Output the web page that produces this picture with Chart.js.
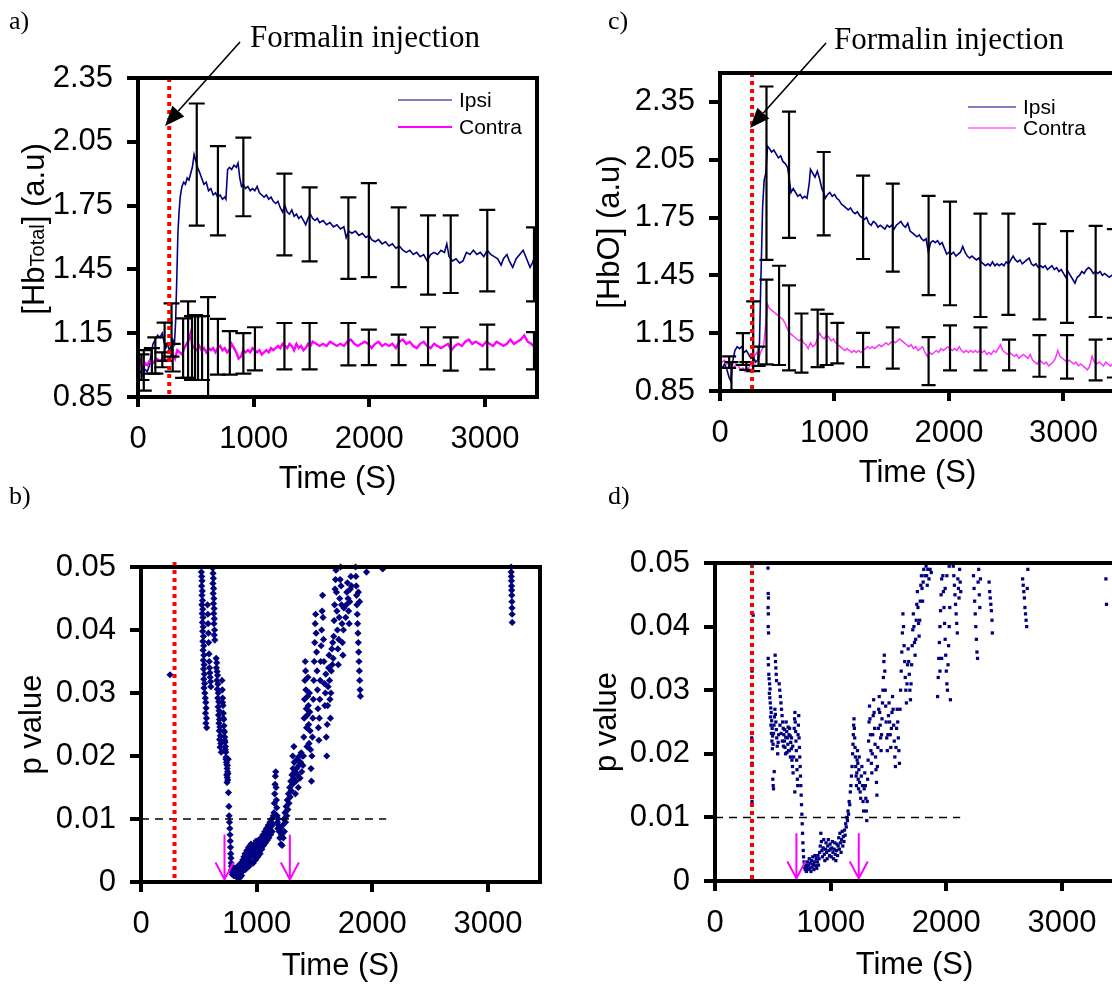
<!DOCTYPE html>
<html><head><meta charset="utf-8">
<script src="https://cdn.jsdelivr.net/npm/chart.js@4.4.1/dist/chart.umd.min.js"></script>
<style>
html,body{margin:0;padding:0;background:#fff;}
body{width:1112px;height:986px;overflow:hidden;position:relative;}
canvas{position:absolute;}
.lab{position:absolute;font-family:'Liberation Serif','Times New Roman',serif;color:#000;line-height:1;white-space:nowrap;}
</style></head><body>
<canvas id="ca" width="556" height="500" style="left:0;top:0"></canvas>
<canvas id="cc" width="580" height="500" style="left:556px;top:0"></canvas>
<canvas id="cb" width="556" height="486" style="left:0;top:500px"></canvas>
<canvas id="cd" width="580" height="486" style="left:556px;top:500px"></canvas>
<div class="lab" style="left:9px;top:8px;font-size:26px">a)</div>
<div class="lab" style="left:608px;top:8px;font-size:26px">c)</div>
<div class="lab" style="left:9px;top:483px;font-size:26px">b)</div>
<div class="lab" style="left:608px;top:483px;font-size:26px">d)</div>
<div class="lab" style="left:250px;top:21px;font-size:31px">Formalin injection</div>
<div class="lab" style="left:834px;top:23px;font-size:31px">Formalin injection</div>
<script>
// ---------- data ----------
const xTickVals = [0, 1000, 2000, 3000];
const hbTickVals = [0.85, 1.15, 1.45, 1.75, 2.05, 2.35];
const pTickVals = [0, 0.01, 0.02, 0.03, 0.04, 0.05];
const seriesNames = ['Ipsi', 'Contra'];
const injectionTime = {a: 270, b: 290, c: 280, d: 320};
const pThreshold = 0.01;
const thresholdEnd = 2120;
const sigArrowsB = [722, 1287];
const sigArrowsD = [704, 1243];

// panel a: [HbTotal]
const aIpsi = [[0,0.96],[20,0.97],[40,0.95],[60,0.98],[80,0.97],[100,1.00],[115,1.06],[130,1.10],[150,1.12],[170,1.14],[190,1.13],[210,1.15],[225,1.11],[240,1.08],[255,1.10],[270,1.07],[285,1.09],[300,1.12],[315,1.10],[325,1.20],[335,1.40],[345,1.62],[355,1.72],[365,1.79],[380,1.84],[395,1.86],[410,1.85],[425,1.88],[440,1.87],[455,1.90],[470,1.93],[485,1.99],[500,1.96],[515,1.93],[530,1.91],[550,1.88],[570,1.85],[590,1.86],[610,1.82],[630,1.83],[650,1.80],[670,1.81],[690,1.79],[710,1.80],[730,1.78],[750,1.79],[760,1.78],[775,1.92],[790,1.93],[810,1.92],[830,1.94],[850,1.93],[865,1.95],[880,1.88],[895,1.84],[910,1.85],[930,1.83],[950,1.84],[970,1.82],[990,1.83],[1010,1.82],[1030,1.84],[1050,1.81],[1070,1.80],[1090,1.79],[1110,1.80],[1130,1.78],[1150,1.79],[1170,1.77],[1190,1.76],[1210,1.77],[1230,1.74],[1250,1.72],[1270,1.75],[1290,1.72],[1310,1.71],[1330,1.73],[1350,1.70],[1370,1.71],[1390,1.69],[1410,1.70],[1430,1.68],[1450,1.66],[1470,1.69],[1490,1.71],[1510,1.69],[1530,1.68],[1550,1.69],[1570,1.67],[1600,1.68],[1630,1.66],[1660,1.67],[1690,1.65],[1720,1.66],[1750,1.64],[1780,1.65],[1800,1.60],[1820,1.63],[1850,1.62],[1880,1.63],[1910,1.61],[1940,1.62],[1970,1.60],[2000,1.61],[2020,1.59],[2050,1.58],[2080,1.59],[2110,1.57],[2140,1.58],[2170,1.56],[2200,1.57],[2230,1.55],[2260,1.56],[2290,1.54],[2320,1.53],[2350,1.54],[2380,1.52],[2410,1.53],[2440,1.51],[2470,1.52],[2500,1.49],[2530,1.52],[2560,1.53],[2590,1.52],[2620,1.54],[2650,1.53],[2670,1.57],[2690,1.51],[2720,1.49],[2750,1.50],[2780,1.48],[2810,1.49],[2840,1.53],[2870,1.52],[2900,1.54],[2930,1.52],[2960,1.53],[2990,1.51],[3020,1.54],[3050,1.52],[3080,1.51],[3110,1.50],[3140,1.47],[3160,1.50],[3190,1.52],[3210,1.49],[3240,1.46],[3270,1.50],[3300,1.52],[3330,1.54],[3360,1.50],[3390,1.46],[3410,1.48],[3430,1.51],[3445,1.42],[3450,1.32]];
const aContra = [[0,0.99],[20,1.02],[40,0.98],[60,1.01],[80,1.00],[100,1.02],[130,1.01],[160,1.03],[190,1.02],[220,1.03],[250,1.02],[280,1.04],[300,1.05],[320,1.03],[340,1.07],[360,1.06],[380,1.05],[400,1.08],[420,1.10],[440,1.12],[455,1.15],[470,1.09],[490,1.08],[510,1.07],[530,1.09],[550,1.07],[570,1.08],[590,1.06],[610,1.08],[630,1.07],[650,1.08],[670,1.06],[690,1.08],[710,1.09],[730,1.07],[750,1.08],[770,1.06],[790,1.07],[810,1.10],[830,1.08],[850,1.06],[870,1.03],[890,1.04],[910,1.07],[930,1.06],[950,1.07],[970,1.06],[990,1.08],[1010,1.07],[1030,1.06],[1050,1.07],[1070,1.05],[1090,1.06],[1110,1.07],[1130,1.06],[1150,1.08],[1170,1.07],[1190,1.08],[1210,1.09],[1230,1.08],[1250,1.10],[1270,1.09],[1290,1.08],[1310,1.10],[1330,1.09],[1350,1.07],[1370,1.10],[1390,1.08],[1410,1.09],[1430,1.07],[1450,1.08],[1470,1.10],[1490,1.09],[1510,1.11],[1540,1.10],[1570,1.09],[1600,1.10],[1630,1.09],[1660,1.11],[1690,1.10],[1720,1.09],[1750,1.10],[1780,1.09],[1810,1.11],[1840,1.12],[1870,1.10],[1900,1.09],[1930,1.10],[1960,1.11],[1990,1.10],[2020,1.08],[2050,1.10],[2080,1.11],[2110,1.09],[2140,1.10],[2170,1.09],[2200,1.10],[2230,1.08],[2260,1.11],[2290,1.12],[2320,1.10],[2350,1.11],[2380,1.09],[2410,1.08],[2440,1.10],[2470,1.11],[2500,1.09],[2530,1.08],[2560,1.10],[2590,1.09],[2620,1.08],[2650,1.09],[2680,1.10],[2710,1.07],[2740,1.09],[2770,1.10],[2800,1.09],[2830,1.11],[2860,1.12],[2890,1.10],[2920,1.11],[2950,1.10],[2980,1.09],[3010,1.11],[3040,1.10],[3070,1.09],[3100,1.11],[3130,1.10],[3160,1.09],[3190,1.10],[3220,1.12],[3250,1.10],[3280,1.11],[3310,1.12],[3340,1.14],[3370,1.11],[3400,1.10],[3420,1.09],[3440,1.12],[3450,1.14]];
const aIpsiErr = [[50,0.88,1.07],[150,0.96,1.13],[230,1.02,1.20],[290,1.04,1.29],[508,1.656,2.23],[691,1.61,2.03],[911,1.70,2.07],[1266,1.516,1.90],[1484,1.488,1.836],[1819,1.405,1.789],[1996,1.414,1.856],[2254,1.367,1.742],[2508,1.331,1.704],[2704,1.339,1.704],[3020,1.347,1.73],[3424,1.30,1.648]];
const aContraErr = [[30,0.93,1.05],[120,0.96,1.08],[210,0.99,1.06],[300,0.97,1.10],[390,0.94,1.22],[433,0.94,1.30],[467,0.93,1.23],[493,0.93,1.235],[519,0.93,1.23],[554,0.93,1.23],[606,0.80,1.32],[691,0.955,1.217],[794,0.955,1.16],[911,0.96,1.15],[1011,0.975,1.178],[1266,0.98,1.198],[1484,0.98,1.198],[1819,0.999,1.198],[1996,1.0,1.167],[2254,1.0,1.143],[2508,1.0,1.178],[2704,0.974,1.13],[3020,0.98,1.19],[3424,0.98,1.155]];

// panel c: [HbO]
const cIpsi = [[0,0.98],[20,0.97],[40,0.99],[60,0.96],[80,0.92],[95,0.90],[110,1.00],[130,1.06],[150,1.08],[170,1.07],[190,1.08],[210,1.05],[230,1.06],[250,1.04],[270,1.02],[290,1.03],[310,1.00],[330,1.01],[345,1.10],[355,1.38],[365,1.62],[372,1.80],[385,1.94],[400,1.98],[415,2.12],[430,2.11],[450,2.09],[470,2.10],[490,2.08],[510,2.06],[530,2.07],[550,2.04],[570,2.03],[590,2.01],[605,1.95],[620,1.88],[640,1.90],[660,1.88],[680,1.86],[700,1.87],[720,1.85],[740,1.86],[760,1.85],[780,1.93],[790,2.00],[810,1.98],[830,1.96],[850,1.99],[870,1.95],[890,1.90],[905,1.88],[920,1.85],[940,1.87],[960,1.88],[980,1.86],[1000,1.87],[1020,1.85],[1040,1.84],[1060,1.82],[1080,1.81],[1100,1.80],[1120,1.79],[1140,1.80],[1160,1.78],[1180,1.77],[1200,1.78],[1220,1.76],[1240,1.75],[1260,1.74],[1280,1.75],[1300,1.72],[1320,1.71],[1340,1.73],[1360,1.72],[1380,1.70],[1400,1.71],[1420,1.70],[1440,1.69],[1460,1.71],[1480,1.70],[1500,1.71],[1520,1.69],[1540,1.71],[1560,1.72],[1580,1.73],[1600,1.71],[1620,1.70],[1640,1.72],[1660,1.68],[1680,1.67],[1700,1.66],[1720,1.65],[1740,1.66],[1760,1.64],[1780,1.63],[1800,1.64],[1820,1.57],[1840,1.62],[1860,1.63],[1880,1.62],[1900,1.63],[1920,1.61],[1940,1.62],[1960,1.59],[1980,1.56],[2000,1.57],[2020,1.56],[2040,1.57],[2060,1.55],[2080,1.56],[2100,1.57],[2120,1.60],[2140,1.57],[2160,1.55],[2180,1.54],[2200,1.55],[2220,1.54],[2240,1.53],[2260,1.54],[2280,1.52],[2300,1.51],[2320,1.50],[2340,1.51],[2360,1.50],[2380,1.52],[2400,1.50],[2420,1.51],[2440,1.50],[2460,1.51],[2480,1.50],[2500,1.52],[2520,1.51],[2540,1.53],[2560,1.55],[2580,1.53],[2600,1.52],[2620,1.53],[2640,1.51],[2660,1.52],[2680,1.53],[2700,1.54],[2720,1.51],[2740,1.50],[2760,1.51],[2780,1.49],[2800,1.50],[2820,1.49],[2840,1.50],[2860,1.48],[2880,1.49],[2900,1.50],[2920,1.48],[2940,1.49],[2960,1.47],[2980,1.48],[3000,1.46],[3020,1.44],[3040,1.47],[3060,1.45],[3080,1.43],[3100,1.41],[3120,1.44],[3140,1.45],[3160,1.47],[3180,1.46],[3200,1.48],[3220,1.49],[3240,1.48],[3260,1.46],[3280,1.47],[3300,1.46],[3320,1.47],[3340,1.45],[3360,1.46],[3380,1.45],[3400,1.44],[3420,1.45],[3450,1.44]];
const cContra = [[0,1.02],[20,1.00],[40,1.01],[60,0.99],[80,1.00],[100,0.98],[120,0.97],[140,0.99],[160,0.98],[180,0.96],[200,0.97],[220,0.95],[240,0.96],[260,0.98],[280,1.00],[300,1.03],[320,1.05],[340,1.02],[360,1.06],[380,1.08],[400,1.20],[415,1.30],[430,1.28],[450,1.27],[470,1.26],[490,1.25],[510,1.24],[530,1.23],[550,1.22],[570,1.20],[590,1.17],[610,1.15],[630,1.14],[650,1.13],[670,1.12],[690,1.11],[710,1.12],[730,1.10],[750,1.09],[770,1.07],[790,1.10],[810,1.08],[830,1.09],[850,1.12],[870,1.15],[890,1.13],[910,1.12],[930,1.14],[950,1.13],[970,1.11],[990,1.12],[1010,1.10],[1030,1.09],[1050,1.08],[1070,1.07],[1090,1.06],[1110,1.07],[1130,1.06],[1150,1.05],[1170,1.06],[1190,1.05],[1210,1.06],[1230,1.05],[1250,1.06],[1270,1.07],[1290,1.08],[1310,1.07],[1330,1.08],[1350,1.07],[1370,1.08],[1390,1.09],[1410,1.08],[1430,1.09],[1450,1.10],[1470,1.09],[1490,1.10],[1510,1.11],[1530,1.10],[1550,1.11],[1570,1.12],[1590,1.11],[1610,1.10],[1630,1.09],[1650,1.08],[1670,1.09],[1690,1.07],[1710,1.08],[1730,1.06],[1750,1.07],[1770,1.08],[1790,1.05],[1810,1.03],[1830,1.05],[1850,1.04],[1870,1.05],[1890,1.06],[1910,1.05],[1930,1.07],[1950,1.06],[1970,1.07],[1990,1.08],[2010,1.07],[2030,1.06],[2050,1.07],[2070,1.06],[2090,1.08],[2110,1.06],[2130,1.05],[2150,1.06],[2170,1.05],[2190,1.06],[2210,1.05],[2230,1.06],[2250,1.05],[2270,1.06],[2290,1.05],[2310,1.06],[2330,1.04],[2350,1.05],[2370,1.04],[2390,1.06],[2410,1.05],[2430,1.07],[2450,1.09],[2470,1.06],[2490,1.05],[2510,1.04],[2530,1.05],[2550,1.04],[2570,1.03],[2590,1.04],[2610,1.02],[2630,1.03],[2650,1.04],[2670,1.03],[2690,1.02],[2710,1.04],[2730,1.01],[2750,1.00],[2770,0.99],[2790,1.01],[2810,1.00],[2830,0.99],[2850,1.00],[2870,0.98],[2890,0.99],[2910,1.00],[2930,1.02],[2950,1.06],[2970,1.03],[2990,1.02],[3010,1.01],[3030,1.00],[3050,1.01],[3070,1.00],[3090,0.99],[3110,1.00],[3130,0.98],[3150,0.99],[3170,0.98],[3190,0.97],[3210,0.96],[3230,0.98],[3250,1.03],[3270,1.00],[3290,0.99],[3310,1.00],[3330,0.99],[3350,0.98],[3370,1.00],[3390,0.99],[3410,0.98],[3430,0.99],[3450,0.98]];
const cIpsiErr = [[100,0.855,1.0],[200,0.985,1.15],[290,0.953,1.315],[406,1.53,2.43],[603,1.645,2.30],[906,1.657,2.09],[1250,1.535,1.967],[1509,1.469,1.926],[1822,1.347,1.862],[2009,1.295,1.833],[2275,1.234,1.77],[2519,1.245,1.77],[2790,1.222,1.717],[3031,1.203,1.68],[3281,1.234,1.707],[3440,1.23,1.69]];
const cContraErr = [[80,0.97,1.03],[230,0.96,1.00],[337,0.98,1.08],[406,0.988,1.428],[516,0.985,1.50],[603,0.957,1.398],[712,0.945,1.252],[853,0.974,1.272],[931,0.985,1.25],[1025,0.993,1.203],[1250,0.974,1.152],[1509,0.966,1.18],[1822,0.88,1.13],[2009,0.957,1.19],[2275,0.957,1.18],[2525,0.957,1.117],[2790,0.924,1.14],[3031,0.914,1.14],[3281,0.905,1.117],[3440,0.92,1.12]];

// panel b: p values (HbTotal)
const bPoints = [[251,.0329],
[522,.0492],[525,.0485],[528,.0478],[524,.0470],[530,.0462],[527,.0455],[532,.0447],[526,.0440],[534,.0433],[529,.0426],[536,.0420],[531,.0412],[538,.0405],[533,.0398],[540,.0390],[535,.0382],[542,.0375],[537,.0368],[544,.0360],[539,.0352],[546,.0345],[541,.0338],[548,.0330],[543,.0322],[550,.0315],[545,.0308],[552,.0300],[556,.0292],[560,.0285],[563,.0276],[558,.0268],[566,.0260],[561,.0252],[568,.0245],
[575,.0440],[578,.0425],[580,.0410],[583,.0395],[585,.0380],[588,.0362],[590,.0350],[593,.0340],[596,.0332],[598,.0325],[601,.0318],[604,.0310],
[620,.0498],[623,.0490],[626,.0482],[622,.0474],[628,.0466],[624,.0458],[630,.0450],[627,.0442],[632,.0434],[629,.0426],[634,.0418],[631,.0410],[636,.0400],[633,.0392],[638,.0384],
[650,.0355],[655,.0348],[652,.0340],[658,.0334],[662,.0328],[656,.0320],[665,.0314],[660,.0306],[668,.0300],[664,.0292],[672,.0286],[667,.0278],[675,.0272],[670,.0265],[678,.0258],[674,.0252],[682,.0246],[677,.0240],[686,.0232],[680,.0226],[690,.0220],[684,.0214],[694,.0206],
[700,.0320],[703,.0305],[706,.0292],[709,.0280],[712,.0268],[715,.0258],[718,.0248],[721,.0238],[724,.0230],[727,.0222],[730,.0215],[733,.0206],[736,.0198],[739,.0190],[705,.0285],[711,.0260],[717,.0240],[723,.0225],[729,.0210],[735,.0195],
[742,.0186],[745,.0180],[748,.0175],[741,.0170],[746,.0166],[750,.0162],[744,.0158],[752,.0172],[747,.0185],[754,.0195],[756,.0142],[760,.0120],[762,.0105],
[765,.0095],[768,.0085],[770,.0075],[772,.0065],[774,.0055],[776,.0045],[778,.0038],[780,.0030],[782,.0025],[784,.0020],[786,.0016],[790,.0012],[794,.0018],[798,.0015],
[802,.0010],[806,.0016],[810,.0022],[815,.0012],[820,.0020],[825,.0008],[830,.0015],[835,.0025],[840,.0010],[845,.0018],[850,.0006],[855,.0012],[860,.0020],[865,.0030],[870,.0010],[875,.0025],[880,.0035],[885,.0018],[890,.0040],[895,.0028],[900,.0045],
[905,.0020],[910,.0035],[915,.0050],[920,.0030],[925,.0042],[930,.0055],[935,.0025],[940,.0038],[945,.0048],[950,.0060],[955,.0032],[960,.0045],
[965,.0055],[970,.0030],[975,.0042],[980,.0060],[985,.0050],[990,.0035],[995,.0065],[1000,.0045],[1005,.0055],[1010,.0040],[1015,.0060],[1020,.0050],[1025,.0068],[1030,.0045],[1035,.0058],[1040,.0070],[1045,.0052],[1050,.0062],
[1055,.0075],[1060,.0058],[1065,.0068],[1070,.0080],[1075,.0062],[1080,.0072],[1085,.0085],[1090,.0066],[1095,.0078],[1100,.0090],[1105,.0070],[1110,.0082],[1115,.0095],[1120,.0075],[1125,.0088],[1130,.0100],[1135,.0080],[1140,.0092],[1145,.0105],
[1150,.0110],[1153,.0125],[1156,.0140],[1159,.0155],[1162,.0168],[1165,.0175],[1168,.0150],[1171,.0130],[1174,.0118],[1177,.0105],[1180,.0095],[1183,.0085],[1186,.0100],[1189,.0090],
[1195,.0080],[1200,.0070],[1205,.0085],[1210,.0060],[1215,.0075],[1220,.0058],[1225,.0090],[1230,.0070],[1235,.0100],[1240,.0080],[1245,.0110],[1250,.0095],[1255,.0120],
[1260,.0105],[1265,.0130],[1270,.0115],[1275,.0140],[1280,.0125],[1285,.0150],[1290,.0135],[1295,.0160],[1300,.0145],[1305,.0170],[1310,.0155],[1315,.0180],[1320,.0165],[1325,.0190],[1330,.0175],[1312,.0200],[1322,.0215],
[1335,.0140],[1340,.0160],[1345,.0180],[1350,.0195],[1355,.0170],[1360,.0150],[1365,.0185],[1370,.0200],[1375,.0165],[1380,.0190],[1385,.0205],[1390,.0175],[1395,.0200],[1400,.0185],
[1405,.0200],[1408,.0230],[1411,.0260],[1414,.0290],[1417,.0320],[1420,.0350],[1423,.0335],[1426,.0305],[1429,.0275],[1432,.0245],[1435,.0215],[1438,.0265],[1441,.0295],[1444,.0325],[1447,.0280],[1450,.0250],[1453,.0220],[1456,.0300],[1459,.0270],
[1462,.0240],[1466,.0210],[1470,.0180],[1474,.0160],[1478,.0200],[1482,.0230],[1486,.0260],[1490,.0290],[1494,.0320],[1498,.0350],[1502,.0380],[1506,.0410],[1510,.0425],[1514,.0395],[1518,.0365],[1522,.0335],[1526,.0305],[1530,.0275],
[1534,.0245],[1538,.0225],[1542,.0260],[1546,.0290],[1550,.0320],[1554,.0350],[1558,.0375],[1562,.0400],[1566,.0430],[1570,.0455],[1574,.0420],[1578,.0385],[1582,.0350],[1586,.0315],[1590,.0280],[1594,.0300],[1598,.0330],
[1602,.0230],[1606,.0200],[1610,.0250],[1614,.0280],[1618,.0310],[1622,.0340],[1626,.0360],[1630,.0320],[1634,.0290],[1638,.0260],[1642,.0300],[1646,.0335],[1650,.0370],[1654,.0345],[1658,.0380],
[1662,.0355],[1666,.0390],[1670,.0415],[1674,.0440],[1678,.0465],[1682,.0480],[1686,.0495],[1690,.0460],[1694,.0430],[1698,.0400],[1702,.0370],[1706,.0345],[1710,.0385],[1714,.0420],[1718,.0450],
[1722,.0480],[1726,.0500],[1730,.0470],[1734,.0440],[1738,.0410],[1742,.0380],[1746,.0360],[1750,.0400],[1754,.0435],
[1770,.0420],[1775,.0440],[1780,.0460],[1785,.0475],[1790,.0450],[1795,.0430],[1800,.0410],[1805,.0445],[1810,.0465],[1815,.0485],[1820,.0470],
[1855,.0500],[1858,.0485],[1861,.0470],[1864,.0455],[1867,.0440],[1870,.0425],[1873,.0410],[1876,.0395],[1879,.0380],[1882,.0365],[1885,.0350],[1888,.0335],[1891,.0320],[1894,.0305],[1897,.0295],[1880,.0460],[1890,.0445],
[1950,.0492],[2090,.0497],
[3200,.0500],[3201,.0492],[3202,.0485],[3203,.0478],[3204,.0470],[3205,.0463],[3206,.0455],[3207,.0445],[3208,.0435],[3209,.0425],[3210,.0412]];

// panel d: p values (HbO)
const dPoints = [[320,.0495],[330,.0418],[320,.0330],[318,.0225],[320,.0185],[318,.0170],[320,.0125],
[458,.0492],[460,.0452],[462,.0445],[459,.0430],[461,.0420],[460,.0400],[463,.0390],[460,.0350],[462,.0340],
[465,.0325],[468,.0318],[472,.0310],[476,.0302],[470,.0295],[474,.0288],[478,.0280],[482,.0272],[486,.0265],[480,.0258],[490,.0252],[484,.0245],[494,.0240],[488,.0232],[498,.0228],[492,.0220],[502,.0215],[496,.0208],[506,.0232],[510,.0245],[514,.0258],[518,.0270],[522,.0262],[526,.0250],[530,.0238],[534,.0225],[538,.0212],[542,.0200],[546,.0218],[550,.0230],[500,.0160],[503,.0150],[506,.0145],[512,.0172],
[520,.0355],[523,.0345],[526,.0335],[529,.0325],[532,.0315],
[555,.0310],[560,.0300],[565,.0290],[570,.0280],[575,.0270],[580,.0260],[585,.0250],[590,.0240],[595,.0230],[600,.0220],[605,.0210],[610,.0200],[615,.0250],[620,.0235],[625,.0225],[630,.0215],[635,.0205],[640,.0230],[645,.0240],[650,.0228],[655,.0218],[660,.0208],[665,.0190],[670,.0180],[675,.0170],[680,.0195],[562,.0245],[572,.0232],[582,.0220],[592,.0212],[602,.0238],[612,.0226],[622,.0202],[632,.0242],[642,.0205],[652,.0195],[662,.0225],[672,.0212],
[685,.0240],[688,.0255],[691,.0265],[694,.0250],[697,.0235],[700,.0220],[703,.0205],[706,.0190],[709,.0175],[712,.0160],[715,.0150],[718,.0230],[721,.0245],[724,.0260],[727,.0225],[730,.0210],[733,.0195],[736,.0180],[739,.0165],[690,.0140],[742,.0150],[745,.0135],[748,.0120],[751,.0105],[754,.0090],[757,.0075],[760,.0060],[763,.0048],[766,.0038],
[770,.0030],[775,.0022],[780,.0018],[785,.0025],[790,.0015],[795,.0022],[800,.0030],[805,.0018],[810,.0025],[815,.0035],[820,.0020],[825,.0028],[830,.0015],[835,.0032],[840,.0022],[845,.0038],[850,.0026],[855,.0018],[860,.0030],[865,.0040],[870,.0024],[875,.0035],[880,.0020],[885,.0030],[890,.0040],[895,.0025],[900,.0035],[905,.0045],[910,.0055],[915,.0075],[920,.0062],[925,.0048],[930,.0038],[935,.0052],[940,.0065],[945,.0042],[950,.0032],[955,.0050],
[960,.0060],[965,.0045],[970,.0035],[975,.0055],[980,.0065],[985,.0048],[990,.0040],[995,.0058],[1000,.0050],[1005,.0038],[1010,.0052],[1015,.0062],[1020,.0045],[1025,.0035],[1030,.0050],[1035,.0060],[1040,.0042],[1045,.0032],[1050,.0048],[1055,.0058],[1060,.0040],[1065,.0055],[1070,.0068],[1075,.0050],[1080,.0075],[1085,.0060],[1090,.0045],[1095,.0065],[1100,.0078],[1105,.0055],[1110,.0070],
[1115,.0062],[1120,.0080],[1125,.0072],[1130,.0090],[1135,.0085],[1140,.0100],[1145,.0095],[1150,.0110],[1155,.0105],[1160,.0125],[1165,.0120],[1170,.0140],[1175,.0150],[1180,.0165],[1185,.0180],
[1190,.0200],[1193,.0215],[1196,.0230],[1199,.0245],[1202,.0255],[1205,.0240],[1208,.0225],[1211,.0210],[1214,.0195],[1217,.0180],[1220,.0165],[1223,.0150],[1226,.0170],[1229,.0190],[1232,.0205],[1235,.0185],[1238,.0160],[1241,.0145],[1244,.0175],[1247,.0195],[1250,.0155],[1255,.0140],[1260,.0130],[1265,.0165],[1270,.0180],[1275,.0150],[1280,.0125],[1285,.0110],[1290,.0145],[1295,.0170],
[1300,.0150],[1304,.0130],[1308,.0110],[1312,.0095],[1316,.0125],[1320,.0160],[1324,.0190],[1328,.0220],[1332,.0250],[1336,.0275],[1340,.0255],[1344,.0230],[1348,.0205],[1352,.0185],[1356,.0170],[1360,.0200],[1364,.0230],[1368,.0260],[1372,.0285],[1376,.0265],[1380,.0240],[1384,.0215],[1388,.0195],
[1392,.0175],[1396,.0155],[1400,.0135],[1404,.0180],[1408,.0210],[1412,.0240],[1416,.0270],[1420,.0290],[1424,.0265],[1428,.0245],[1432,.0225],[1436,.0205],[1440,.0230],[1444,.0255],[1448,.0280],[1452,.0300],[1456,.0320],[1460,.0345],[1464,.0355],[1468,.0330],[1472,.0300],[1476,.0275],
[1480,.0250],[1485,.0225],[1490,.0205],[1495,.0230],[1500,.0260],[1505,.0280],[1510,.0250],[1515,.0230],[1520,.0210],[1525,.0240],[1530,.0265],[1535,.0290],[1540,.0270],[1545,.0245],[1550,.0220],[1555,.0195],[1560,.0180],[1565,.0210],[1570,.0240],[1575,.0270],[1580,.0250],[1585,.0225],[1590,.0205],[1595,.0185],
[1600,.0270],[1605,.0300],[1610,.0330],[1615,.0360],[1620,.0390],[1625,.0420],[1630,.0400],[1635,.0370],[1640,.0345],[1645,.0320],[1650,.0300],[1655,.0280],[1660,.0310],[1665,.0340],[1670,.0365],[1675,.0345],[1680,.0325],[1685,.0300],[1690,.0285],[1695,.0310],
[1700,.0340],[1705,.0370],[1710,.0395],[1715,.0420],[1720,.0400],[1725,.0375],[1730,.0355],[1735,.0380],[1740,.0410],[1745,.0435],[1750,.0455],[1755,.0430],[1760,.0405],[1765,.0385],[1770,.0410],[1775,.0440],[1780,.0465],[1785,.0480],[1790,.0460],[1795,.0440],[1800,.0470],[1805,.0490],[1810,.0500],[1815,.0480],
[1825,.0495],[1830,.0480],[1835,.0465],[1840,.0490],[1845,.0500],[1850,.0475],[1860,.0490],[1870,.0485],[1880,.0500],
[1925,.0290],[1930,.0320],[1935,.0350],[1940,.0375],[1945,.0400],[1950,.0425],[1955,.0450],[1960,.0475],[1965,.0500],[1970,.0480],[1975,.0455],[1980,.0430],[1985,.0405],[1990,.0380],[1995,.0355],[2000,.0330],[2005,.0310],[2010,.0300],[2015,.0340],[2020,.0370],[2025,.0400],[2030,.0430],[1945,.0330],[1960,.0350],[1990,.0460],[2005,.0480],[2025,.0495],[2035,.0285],
[2060,.0495],[2065,.0480],[2070,.0465],[2075,.0450],[2080,.0435],[2085,.0420],[2090,.0405],[2095,.0390],[2100,.0475],[2105,.0460],[2110,.0445],[2115,.0490],[2120,.0470],[2125,.0455],
[2230,.0500],[2235,.0480],[2240,.0460],[2245,.0440],[2250,.0420],[2255,.0400],[2260,.0380],[2265,.0360],[2270,.0350],[2275,.0470],[2280,.0490],[2285,.0450],[2290,.0430],[2295,.0475],
[2370,.0470],[2375,.0455],[2380,.0445],[2385,.0435],[2390,.0425],[2395,.0410],[2398,.0390],
[2660,.0475],[2665,.0465],[2670,.0455],[2675,.0445],[2680,.0430],[2685,.0420],[2690,.0410],[2695,.0400],[2700,.0460],[2705,.0490],[2710,.0500],
[3120,.0500],[3380,.0475],[3385,.0435],[3410,.0500]];

// ---------- rendering ----------
const FONT = "'Liberation Sans', Arial, Helvetica, sans-serif";
const NAVY = '#000080';
const toXY = arr => arr.map(([x, y]) => ({x, y}));

const extrasPlugin = {
  id: 'extras',
  afterDatasetsDraw(chart, args, o) {
    const {ctx, chartArea: ca, scales: {x, y}} = chart;
    ctx.save();
    ctx.beginPath();
    ctx.rect(ca.left, ca.top - 1, ca.right - ca.left, ca.bottom - ca.top + 2);
    ctx.clip();
    ctx.strokeStyle = '#000'; ctx.lineWidth = 2.2; ctx.setLineDash([]);
    (o.err || []).forEach(set => set.forEach(([t, lo, hi]) => {
      const px = x.getPixelForValue(t), p1 = y.getPixelForValue(hi), p2 = y.getPixelForValue(lo);
      ctx.beginPath();
      ctx.moveTo(px, p1); ctx.lineTo(px, p2);
      ctx.moveTo(px - o.cap, p1); ctx.lineTo(px + o.cap, p1);
      ctx.moveTo(px - o.cap, p2); ctx.lineTo(px + o.cap, p2);
      ctx.stroke();
    }));
    ctx.restore();
    ctx.save();
    if (o.thresh) {
      const py = y.getPixelForValue(pThreshold);
      ctx.strokeStyle = '#000'; ctx.lineWidth = 1.5; ctx.setLineDash([8, 6]);
      ctx.beginPath(); ctx.moveTo(ca.left, py); ctx.lineTo(x.getPixelForValue(thresholdEnd), py); ctx.stroke();
    }
    if (o.sig) {
      ctx.setLineDash([]); ctx.strokeStyle = '#ff00ff'; ctx.lineWidth = 2;
      o.sig.forEach(t => {
        const px = x.getPixelForValue(t), top = y.getPixelForValue(0.0075), tip = y.getPixelForValue(0.0004);
        ctx.beginPath();
        ctx.moveTo(px, top); ctx.lineTo(px, tip);
        ctx.moveTo(px - 9, tip - 17); ctx.lineTo(px, tip); ctx.lineTo(px + 9, tip - 17);
        ctx.stroke();
      });
    }
    if (o.inj != null) {
      const px = x.getPixelForValue(o.inj);
      ctx.strokeStyle = '#ff0000'; ctx.lineWidth = 4; ctx.setLineDash([4, 4]);
      ctx.beginPath(); ctx.moveTo(px, ca.top - (o.injExtra || 0)); ctx.lineTo(px, ca.bottom); ctx.stroke();
    }
    ctx.restore();
  },
  afterDraw(chart, args, o) {
    const {ctx, chartArea: ca} = chart;
    ctx.save();
    ctx.strokeStyle = '#000'; ctx.lineWidth = 4; ctx.setLineDash([]);
    ctx.strokeRect(ca.left, ca.top, ca.right - ca.left, ca.bottom - ca.top);
    if (o.legend) {
      const L = o.legend;
      ctx.font = `21px ${FONT}`; ctx.textBaseline = 'middle'; ctx.fillStyle = '#000';
      L.items.forEach((it, i) => {
        ctx.strokeStyle = it.color; ctx.lineWidth = it.width;
        ctx.beginPath(); ctx.moveTo(L.x1, L.ys[i]); ctx.lineTo(L.x2, L.ys[i]); ctx.stroke();
        ctx.fillText(it.label, L.tx, L.ys[i] + 1);
      });
    }
    if (o.arrow) {
      const A = o.arrow;
      const ang = Math.atan2(A.y2 - A.y1, A.x2 - A.x1);
      const hl = 20, hw = 8;
      const bx = A.x2 - hl * Math.cos(ang), by = A.y2 - hl * Math.sin(ang);
      ctx.strokeStyle = '#000'; ctx.lineWidth = 1.6;
      ctx.beginPath(); ctx.moveTo(A.x1, A.y1); ctx.lineTo(bx, by); ctx.stroke();
      ctx.fillStyle = '#000';
      ctx.beginPath();
      ctx.moveTo(A.x2, A.y2);
      ctx.lineTo(bx + hw * Math.sin(ang), by - hw * Math.cos(ang));
      ctx.lineTo(bx - hw * Math.sin(ang), by + hw * Math.cos(ang));
      ctx.closePath(); ctx.fill();
    }
    if (o.mixTitle) {
      const m = o.mixTitle;
      ctx.translate(m.x, m.y); ctx.rotate(-Math.PI / 2);
      ctx.fillStyle = '#000'; ctx.textBaseline = 'alphabetic';
      let total = 0;
      m.parts.forEach(p => { ctx.font = `${p[1]}px ${FONT}`; total += ctx.measureText(p[0]).width; });
      let cx = -total / 2;
      m.parts.forEach(p => { ctx.font = `${p[1]}px ${FONT}`; ctx.fillText(p[0], cx, m.base); cx += ctx.measureText(p[0]).width; });
    }
    ctx.restore();
  }
};
Chart.register(extrasPlugin);

function xAxis(h, titlePadB) {
  return {
    type: 'linear', min: 0, max: 3450,
    afterBuildTicks: s => { s.ticks = xTickVals.map(v => ({value: v})); },
    afterFit: s => { s.height = h; },
    ticks: {color: '#000', font: {family: FONT, size: 31}, padding: 14, maxRotation: 0, autoSkip: false, callback: v => String(v)},
    grid: {display: true, drawOnChartArea: false, drawTicks: true, tickLength: 10, lineWidth: 4, color: '#000'},
    border: {display: true, width: 4, color: '#000'},
    title: {display: true, text: 'Time (S)', color: '#000', font: {family: FONT, size: 31}, padding: {top: 0, bottom: titlePadB}}
  };
}
function yAxis(w, min, max, vals, fmt, title, titlePadTop) {
  return {
    type: 'linear', min, max,
    afterBuildTicks: s => { s.ticks = vals.map(v => ({value: v})); },
    afterFit: s => { s.width = w; },
    ticks: {color: '#000', font: {family: FONT, size: 31}, padding: 14, autoSkip: false, callback: fmt},
    grid: {display: true, drawOnChartArea: false, drawTicks: true, tickLength: 11, lineWidth: 4, color: '#000'},
    border: {display: true, width: 4, color: '#000'},
    title: title ? {display: true, text: title, color: '#000', font: {family: FONT, size: 31}, padding: {top: titlePadTop, bottom: 0}} : {display: false}
  };
}
const hbFmt = v => Number(v).toFixed(2);
const pFmt = v => (v === 0 ? '0' : Number(v).toFixed(2));

function common(pad, scales, extras) {
  return {
    responsive: false, animation: false, events: [],
    layout: {padding: pad},
    scales,
    plugins: {legend: {display: false}, tooltip: {enabled: false}, extras}
  };
}

// panel a
new Chart(document.getElementById('ca'), {
  type: 'line',
  data: {datasets: [
    {label: seriesNames[1], data: toXY(aContra), borderColor: '#ff00ff', borderWidth: 2.4, pointRadius: 0, tension: 0},
    {label: seriesNames[0], data: toXY(aIpsi), borderColor: NAVY, borderWidth: 1.6, pointRadius: 0, tension: 0}
  ]},
  options: common({left: 0, top: 78, right: 19, bottom: 0},
    {x: xAxis(103, 2), y: yAxis(138, 0.85, 2.35, hbTickVals, hbFmt, null, 0)},
    {err: [aIpsiErr, aContraErr], cap: 8, inj: injectionTime.a,
     legend: {x1: 398, x2: 452, tx: 459, ys: [100, 127], items: [{label: seriesNames[0], color: '#5555aa', width: 1.5}, {label: seriesNames[1], color: '#ff00ff', width: 2}]},
     arrow: {x1: 240, y1: 42, x2: 165, y2: 126},
     mixTitle: {x: 33, y: 229, base: 11, parts: [['[Hb', 31], ['Total', 20], ['] (a.u)', 31]]}})
});

// panel c
new Chart(document.getElementById('cc'), {
  type: 'line',
  data: {datasets: [
    {label: seriesNames[1], data: toXY(cContra), borderColor: '#ff33ff', borderWidth: 1.5, pointRadius: 0, tension: 0},
    {label: seriesNames[0], data: toXY(cIpsi), borderColor: NAVY, borderWidth: 1.6, pointRadius: 0, tension: 0}
  ]},
  options: common({left: 0, top: 73, right: 21, bottom: 0},
    {x: xAxis(109, 8), y: yAxis(164, 0.85, 2.5, hbTickVals, hbFmt, '[HbO] (a.u)', 36)},
    {err: [cIpsiErr, cContraErr], cap: 7, inj: injectionTime.c,
     legend: {x1: 412, x2: 460, tx: 467, ys: [107, 128], items: [{label: seriesNames[0], color: '#5555aa', width: 1.5}, {label: seriesNames[1], color: '#ff66ff', width: 1.5}]},
     arrow: {x1: 270, y1: 43, x2: 194, y2: 128}})
});

// panel b
new Chart(document.getElementById('cb'), {
  type: 'scatter',
  data: {datasets: [
    {label: 'p', data: toXY(bPoints), backgroundColor: NAVY, borderColor: NAVY, borderWidth: 0, pointStyle: 'rectRot', pointRadius: 3.6, clip: 5}
  ]},
  options: common({left: 0, top: 67, right: 16, bottom: 0},
    {x: xAxis(104, 1), y: yAxis(141, 0, 0.05, pTickVals, pFmt, 'p value', 14)},
    {inj: injectionTime.b, injExtra: 5, thresh: true, sig: sigArrowsB})
});

// panel d
new Chart(document.getElementById('cd'), {
  type: 'scatter',
  data: {datasets: [
    {label: 'p', data: toXY(dPoints), backgroundColor: NAVY, borderColor: NAVY, borderWidth: 0, pointStyle: 'rect', pointRadius: 2.3, clip: 4}
  ]},
  options: common({left: 0, top: 63, right: 22, bottom: 0},
    {x: xAxis(105, 2), y: yAxis(159, 0, 0.05, pTickVals, pFmt, 'p value', 33)},
    {inj: injectionTime.d, thresh: true, sig: sigArrowsD})
});
</script>
</body></html>
